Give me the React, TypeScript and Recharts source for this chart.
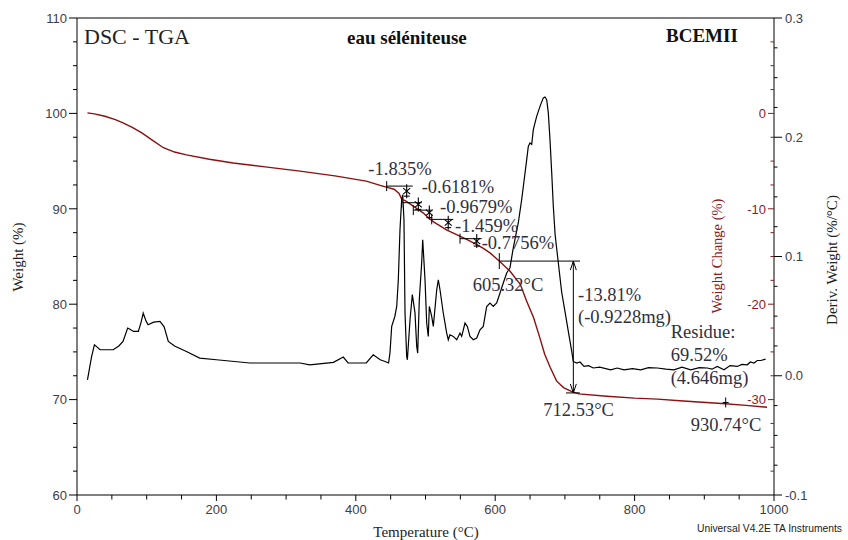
import React from 'react';
import { ComposedChart, Line, XAxis, YAxis, ReferenceLine, ReferenceDot } from 'recharts';

const SERIF = '"Liberation Serif", "Times New Roman", serif';
const SANS = '"Liberation Sans", Arial, sans-serif';
const RED = '#8b1c1c';
const TICK_TEXT = '#3c3c4c';
const NOTE = '#2f2f3f';

// ---------- data ----------
const tgaTemp = [15, 25, 40, 55, 66, 80, 93, 110, 124, 140, 157, 190, 224, 270, 320, 370, 415, 435, 445, 455, 462, 466, 472, 482, 490, 497, 504, 512, 521, 530, 540, 550, 559, 573, 583, 593, 607, 621, 636, 645, 655, 664, 671, 679, 688, 698, 710, 720, 760, 800, 833, 870, 930, 960, 990];
const tgaWeight = [100.06, 99.95, 99.7, 99.35, 99.0, 98.5, 97.95, 97.1, 96.4, 95.95, 95.65, 95.2, 94.8, 94.4, 93.95, 93.45, 92.9, 92.45, 92.25, 92.05, 91.6, 91.0, 90.8, 90.3, 89.9, 89.55, 89.07, 88.6, 88.2, 87.8, 87.45, 87.1, 86.8, 86.27, 85.85, 85.35, 84.45, 83.48, 82.09, 80.34, 78.6, 76.5, 74.75, 73.36, 71.96, 71.26, 70.84, 70.6, 70.35, 70.15, 70.05, 69.85, 69.57, 69.4, 69.2];

const derivCurve: [number, number][] = [
  [15, -0.0034], [21, 0.0162], [25, 0.026], [29, 0.024], [33, 0.0218], [52, 0.0218], [60, 0.025], [66, 0.0288],
  [72.7, 0.04], [76, 0.039], [81, 0.0372], [88, 0.0372], [92, 0.045], [95, 0.0526], [99, 0.046], [102, 0.0428],
  [110, 0.045], [119, 0.0456], [125, 0.041], [131, 0.0288], [140, 0.025], [157, 0.0204], [176, 0.0148], [200, 0.0134],
  [248, 0.0107], [320, 0.0107], [334, 0.0092], [368, 0.0112], [382, 0.0157], [389, 0.0107], [415, 0.0107], [425, 0.0176],
  [435, 0.0134], [442, 0.012], [447, 0.0107], [449, 0.019], [451.5, 0.0414], [456, 0.0497], [458.7, 0.0581], [461, 0.0805],
  [463.4, 0.1225], [465.8, 0.1477], [467.3, 0.1518], [469.1, 0.1309], [470.6, 0.0529], [473, 0.0162], [474, 0.0134],
  [477.8, 0.047], [481.1, 0.068], [484.9, 0.0529], [487.4, 0.0246], [488.8, 0.019], [491.1, 0.0638], [494.5, 0.0945],
  [496, 0.1141], [499.3, 0.0805], [501.7, 0.0442], [504, 0.033], [505.5, 0.0581], [508.9, 0.0497], [511.2, 0.0414],
  [516.1, 0.0721], [518.4, 0.0805], [520.8, 0.0721], [525.5, 0.0526], [530.4, 0.0358], [532.7, 0.0302], [535.1, 0.0344],
  [539.9, 0.033], [544.8, 0.0302], [549.5, 0.0358], [551.9, 0.033], [556.7, 0.0442], [560, 0.0414], [563.8, 0.033],
  [568.6, 0.0302], [573.5, 0.0316], [578.2, 0.0386], [582.9, 0.0414], [587.8, 0.0581], [592.5, 0.061], [597.3, 0.0581],
  [602.1, 0.061], [606.9, 0.0694], [611.6, 0.0778], [616.5, 0.0862], [621.2, 0.0906], [626, 0.1074], [633.1, 0.1281],
  [638, 0.1477], [642.8, 0.17], [645.2, 0.1812], [647.5, 0.1924], [649.9, 0.1952], [652.4, 0.194], [654.7, 0.2064],
  [657.1, 0.212], [659.5, 0.2175], [664.3, 0.2259], [669, 0.233], [671.4, 0.2338], [673.9, 0.2315], [676.2, 0.2204],
  [678.6, 0.198], [681.1, 0.17], [683.4, 0.142], [686, 0.118], [690.5, 0.095], [695.4, 0.07], [700.1, 0.054],
  [704.9, 0.0372], [709.8, 0.0204], [712, 0.012], [717, 0.0107], [721.7, 0.0115], [727.4, 0.0078], [734, 0.0085],
  [740.7, 0.0065], [750, 0.0072], [765.7, 0.005], [775, 0.0065], [784.8, 0.005], [797, 0.006], [808.8, 0.005],
  [820, 0.0068], [832.6, 0.0065], [845, 0.0055], [856.5, 0.005], [868, 0.0072], [880.5, 0.005], [893, 0.0068],
  [904.3, 0.0065], [911, 0.0055], [918.6, 0.0078], [928.3, 0.005], [937, 0.0085], [947.3, 0.0078], [954, 0.0095],
  [961.7, 0.0092], [966, 0.0115], [971.3, 0.0107], [976, 0.0128], [981, 0.0128], [988, 0.014],
];

const xTicks = [0, 50, 100, 150, 200, 250, 300, 350, 400, 450, 500, 550, 600, 650, 700, 750, 800, 850, 900, 950, 1000];
const xLabels = [0, 200, 400, 600, 800, 1000];
const weightTicks = [60, 62.5, 65, 67.5, 70, 72.5, 75, 77.5, 80, 82.5, 85, 87.5, 90, 92.5, 95, 97.5, 100, 102.5, 105, 107.5, 110];
const weightLabels = [60, 70, 80, 90, 100, 110];
// Weight change (%) = weight (%) - 100, so it shares the weight scale
const changeTicks = [-37.5, -35, -32.5, -30, -27.5, -25, -22.5, -20, -17.5, -15, -12.5, -10, -7.5, -5, -2.5, 0, 2.5, 5, 7.5];
const changeLabels = [-30, -20, -10, 0];
const changeOrigin = 100;
const derivTicks = [-0.1, -0.075, -0.05, -0.025, 0, 0.025, 0.05, 0.075, 0.1, 0.125, 0.15, 0.175, 0.2, 0.225, 0.25, 0.275, 0.3];
const derivLabels = [-0.1, 0, 0.1, 0.2, 0.3];

// annotations (temperature, weight %)
const noteTexts = [
  { text: '-1.835%', t: 418, w: 93.5 },
  { text: '-0.6181%', t: 494.5, w: 91.61 },
  { text: '-0.9679%', t: 520.8, w: 89.52 },
  { text: '-1.459%', t: 542.3, w: 87.56 },
  { text: '-0.7756%', t: 580.6, w: 85.82 },
  { text: '605.32°C', t: 567.7, w: 81.38 },
  { text: '-13.81%', t: 718.8, w: 80.33 },
  { text: '(-0.9228mg)', t: 718.8, w: 78.07 },
  { text: 'Residue:', t: 851.8, w: 76.5 },
  { text: '69.52%', t: 851.8, w: 74.05 },
  { text: '(4.646mg)', t: 851.8, w: 71.6 },
  { text: '712.53°C', t: 669, w: 68.3 },
  { text: '930.74°C', t: 880.5, w: 66.72 },
];
const stepLines = [
  { t1: 444.3, t2: 481.6, w: 92.38 },
  { t1: 465.9, t2: 494.5, w: 90.64 },
  { t1: 482.5, t2: 508.9, w: 89.86 },
  { t1: 508.9, t2: 539.9, w: 88.89 },
  { t1: 549.5, t2: 580.6, w: 86.87 },
  { t1: 605.9, t2: 721.7, w: 84.52 },
  { t1: 701.6, t2: 721.7, w: 70.7 },
];
const endTicks = [
  { t: 444.3, w: 92.38 },
  { t: 465.9, w: 90.64 },
  { t: 482.5, w: 89.86 },
  { t: 508.9, w: 88.89 },
  { t: 549.5, w: 86.87 },
  { t: 605.9, w: 84.52 },
];
const stepMarkers = [
  { t: 473, w: 91.85 },
  { t: 489.7, w: 90.46 },
  { t: 505.5, w: 89.6 },
  { t: 532.6, w: 88.55 },
  { t: 573.5, w: 86.62 },
];
const lossArrow = { t: 712.1, wTop: 84.52, wBottom: 70.7 };
const residueMark = { t: 930.7, w: 69.7 };

const tgaData = tgaTemp.map((t, i) => ({ t, w: tgaWeight[i] }));
const derivData = derivCurve.map(([t, d]) => ({ t, d }));

// ---------- ticks ----------
const LeftTick = (props: any) => {
  const { x, y, payload } = props;
  const v = payload.value;
  const major = weightLabels.includes(v);
  return (
    <g>
      <line x1={x - (major ? 8 : 4)} x2={x} y1={y} y2={y} stroke="#000" strokeWidth={1} />
      {major && (
        <text x={x - 10} y={y + 4.7} textAnchor="end" fontFamily={SANS} fontSize={13} fill={TICK_TEXT}>{v}</text>
      )}
    </g>
  );
};

const BottomTick = (props: any) => {
  const { x, y, payload } = props;
  const v = payload.value;
  const major = xLabels.includes(v);
  return (
    <g>
      <line x1={x} x2={x} y1={y} y2={y + (major ? 6 : 4.5)} stroke="#000" strokeWidth={1} />
      {major && (
        <text x={x} y={y + 18.5} textAnchor="middle" fontFamily={SANS} fontSize={13} fill={TICK_TEXT}>{v}</text>
      )}
    </g>
  );
};

const DerivTick = (props: any) => {
  const { x, y, payload } = props;
  const v = payload.value;
  const major = derivLabels.some((m) => Math.abs(m - v) < 1e-9);
  return (
    <g>
      <line x1={x} x2={x + (major ? 8 : 3.5)} y1={y} y2={y} stroke="#000" strokeWidth={1} />
      {major && (
        <text x={x + 11} y={y + 4.7} textAnchor="start" fontFamily={SANS} fontSize={13} fill={TICK_TEXT}>{v.toFixed(1)}</text>
      )}
    </g>
  );
};

const makeChangeTick = (v: number) => (p: any) => {
  const major = changeLabels.includes(v);
  return (
    <g>
      <line x1={p.cx - (major ? 6 : 3.5)} x2={p.cx} y1={p.cy} y2={p.cy} stroke={RED} strokeWidth={1} />
      {major && (
        <text x={p.cx - 8} y={p.cy + 4.7} textAnchor="end" fontFamily={SANS} fontSize={13} fill={RED}>{v}</text>
      )}
    </g>
  );
};

const makeText = (text: string) => (p: any) => (
  <text x={p.cx} y={p.cy} fontFamily={SERIF} fontSize={18.5} fill={NOTE}>{text}</text>
);

const VTick = (p: any) => (
  <line x1={p.cx} x2={p.cx} y1={p.cy - 5} y2={p.cy + 5} stroke="#000" strokeWidth={1} />
);
const BigTick = (p: any) => (
  <line x1={p.cx} x2={p.cx} y1={p.cy - 8} y2={p.cy + 8} stroke="#000" strokeWidth={1} />
);
const StepMarker = (p: any) => (
  <g stroke="#000" strokeWidth={1.1} fill="none">
    <line x1={p.cx} x2={p.cx} y1={p.cy - 7} y2={p.cy + 7} />
    <line x1={p.cx - 3.5} x2={p.cx + 3.5} y1={p.cy - 3} y2={p.cy + 3} />
    <line x1={p.cx - 3.5} x2={p.cx + 3.5} y1={p.cy + 3} y2={p.cy - 3} />
    <line x1={p.cx - 3} x2={p.cx + 3} y1={p.cy + 5} y2={p.cy + 5} />
  </g>
);
const ArrowUp = (p: any) => (
  <path d={`M${p.cx - 3},${p.cy + 9} L${p.cx},${p.cy} L${p.cx + 3},${p.cy + 9}`} stroke="#000" strokeWidth={1} fill="none" />
);
const ArrowDown = (p: any) => (
  <path d={`M${p.cx - 3},${p.cy - 9} L${p.cx},${p.cy} L${p.cx + 3},${p.cy - 9}`} stroke="#000" strokeWidth={1} fill="none" />
);
const PlusMark = (p: any) => (
  <g stroke="#000" strokeWidth={1}>
    <line x1={p.cx} x2={p.cx} y1={p.cy - 5} y2={p.cy + 5} />
    <line x1={p.cx - 3} x2={p.cx + 3} y1={p.cy} y2={p.cy} />
  </g>
);

export default function App() {
  return (
    <div style={{ position: 'absolute', left: 0, top: 0, width: 848, height: 540, background: '#fff' }}>
      <ComposedChart width={848} height={540} margin={{ top: 18, right: 0, bottom: 0, left: 0 }}>
        <XAxis
          type="number"
          dataKey="t"
          domain={[0, 1000]}
          ticks={xTicks}
          interval={0}
          height={45}
          tickSize={0}
          tickMargin={0}
          tickLine={false}
          axisLine={{ stroke: '#000' }}
          tick={<BottomTick />}
        />
        <YAxis
          yAxisId="w"
          orientation="left"
          type="number"
          domain={[60, 110]}
          ticks={weightTicks}
          interval={0}
          width={77}
          tickSize={0}
          tickMargin={0}
          tickLine={false}
          axisLine={{ stroke: '#000' }}
          tick={<LeftTick />}
        />
        <YAxis
          yAxisId="d"
          orientation="right"
          type="number"
          domain={[-0.1, 0.3]}
          ticks={derivTicks}
          interval={0}
          width={74}
          tickSize={0}
          tickMargin={0}
          tickLine={false}
          axisLine={{ stroke: '#000' }}
          tick={<DerivTick />}
        />

        <ReferenceLine yAxisId="w" y={110} stroke="#000" strokeWidth={1} />

        <Line
          yAxisId="d"
          data={derivData}
          dataKey="d"
          type="linear"
          stroke="#000"
          strokeWidth={1.2}
          dot={false}
          activeDot={false}
          isAnimationActive={false}
        />
        <Line
          yAxisId="w"
          data={tgaData}
          dataKey="w"
          type="linear"
          stroke="#8b1010"
          strokeWidth={1.4}
          dot={false}
          activeDot={false}
          isAnimationActive={false}
        />

        {changeTicks.map((v) => (
          <ReferenceDot key={`ct${v}`} yAxisId="w" x={1000} y={v + changeOrigin} r={0} ifOverflow="visible" shape={makeChangeTick(v)} />
        ))}

        {stepLines.map((s, i) => (
          <ReferenceLine
            key={`sl${i}`}
            yAxisId="w"
            segment={[{ x: s.t1, y: s.w }, { x: s.t2, y: s.w }]}
            stroke="#000"
            strokeWidth={1}
            ifOverflow="visible"
          />
        ))}
        <ReferenceLine
          yAxisId="w"
          segment={[{ x: lossArrow.t, y: lossArrow.wTop }, { x: lossArrow.t, y: lossArrow.wBottom }]}
          stroke="#000"
          strokeWidth={1}
          ifOverflow="visible"
        />
        <ReferenceDot yAxisId="w" x={lossArrow.t} y={lossArrow.wTop} r={0} ifOverflow="visible" shape={ArrowUp} />
        <ReferenceDot yAxisId="w" x={lossArrow.t} y={lossArrow.wBottom} r={0} ifOverflow="visible" shape={ArrowDown} />

        {endTicks.map((e, i) => (
          <ReferenceDot key={`et${i}`} yAxisId="w" x={e.t} y={e.w} r={0} ifOverflow="visible" shape={i === endTicks.length - 1 ? BigTick : VTick} />
        ))}
        {stepMarkers.map((m, i) => (
          <ReferenceDot key={`sm${i}`} yAxisId="w" x={m.t} y={m.w} r={0} ifOverflow="visible" shape={StepMarker} />
        ))}
        <ReferenceDot yAxisId="w" x={residueMark.t} y={residueMark.w} r={0} ifOverflow="visible" shape={PlusMark} />

        {noteTexts.map((n, i) => (
          <ReferenceDot key={`nt${i}`} yAxisId="w" x={n.t} y={n.w} r={0} ifOverflow="visible" shape={makeText(n.text)} />
        ))}
      </ComposedChart>

      <svg width={848} height={540} style={{ position: 'absolute', left: 0, top: 0, pointerEvents: 'none' }}>
        <text x={84} y={43.5} fontFamily={SERIF} fontSize={22} fill="#222">DSC - TGA</text>
        <text x={347} y={43.5} fontFamily={SERIF} fontSize={19} fontWeight="bold" fill="#111">eau séléniteuse</text>
        <text x={666} y={42} fontFamily={SERIF} fontSize={19} fontWeight="bold" fill="#111">BCEMII</text>
        <text x={18} y={257} transform="rotate(-90, 18, 257)" textAnchor="middle" dominantBaseline="central" fontFamily={SERIF} fontSize={15} fill="#222">Weight (%)</text>
        <text x={426} y={537} textAnchor="middle" fontFamily={SERIF} fontSize={15} fill="#222">Temperature (°C)</text>
        <text x={717} y={256} transform="rotate(-90, 717, 256)" textAnchor="middle" dominantBaseline="central" fontFamily={SERIF} fontSize={14.5} fill={RED}>Weight Change (%)</text>
        <text x={832} y={260} transform="rotate(-90, 832, 260)" textAnchor="middle" dominantBaseline="central" fontFamily={SERIF} fontSize={15} fill="#222">Deriv. Weight (%/°C)</text>
        <text x={697} y={531.5} fontFamily={SANS} fontSize={10.3} fill="#222">Universal V4.2E TA Instruments</text>
      </svg>
    </div>
  );
}
